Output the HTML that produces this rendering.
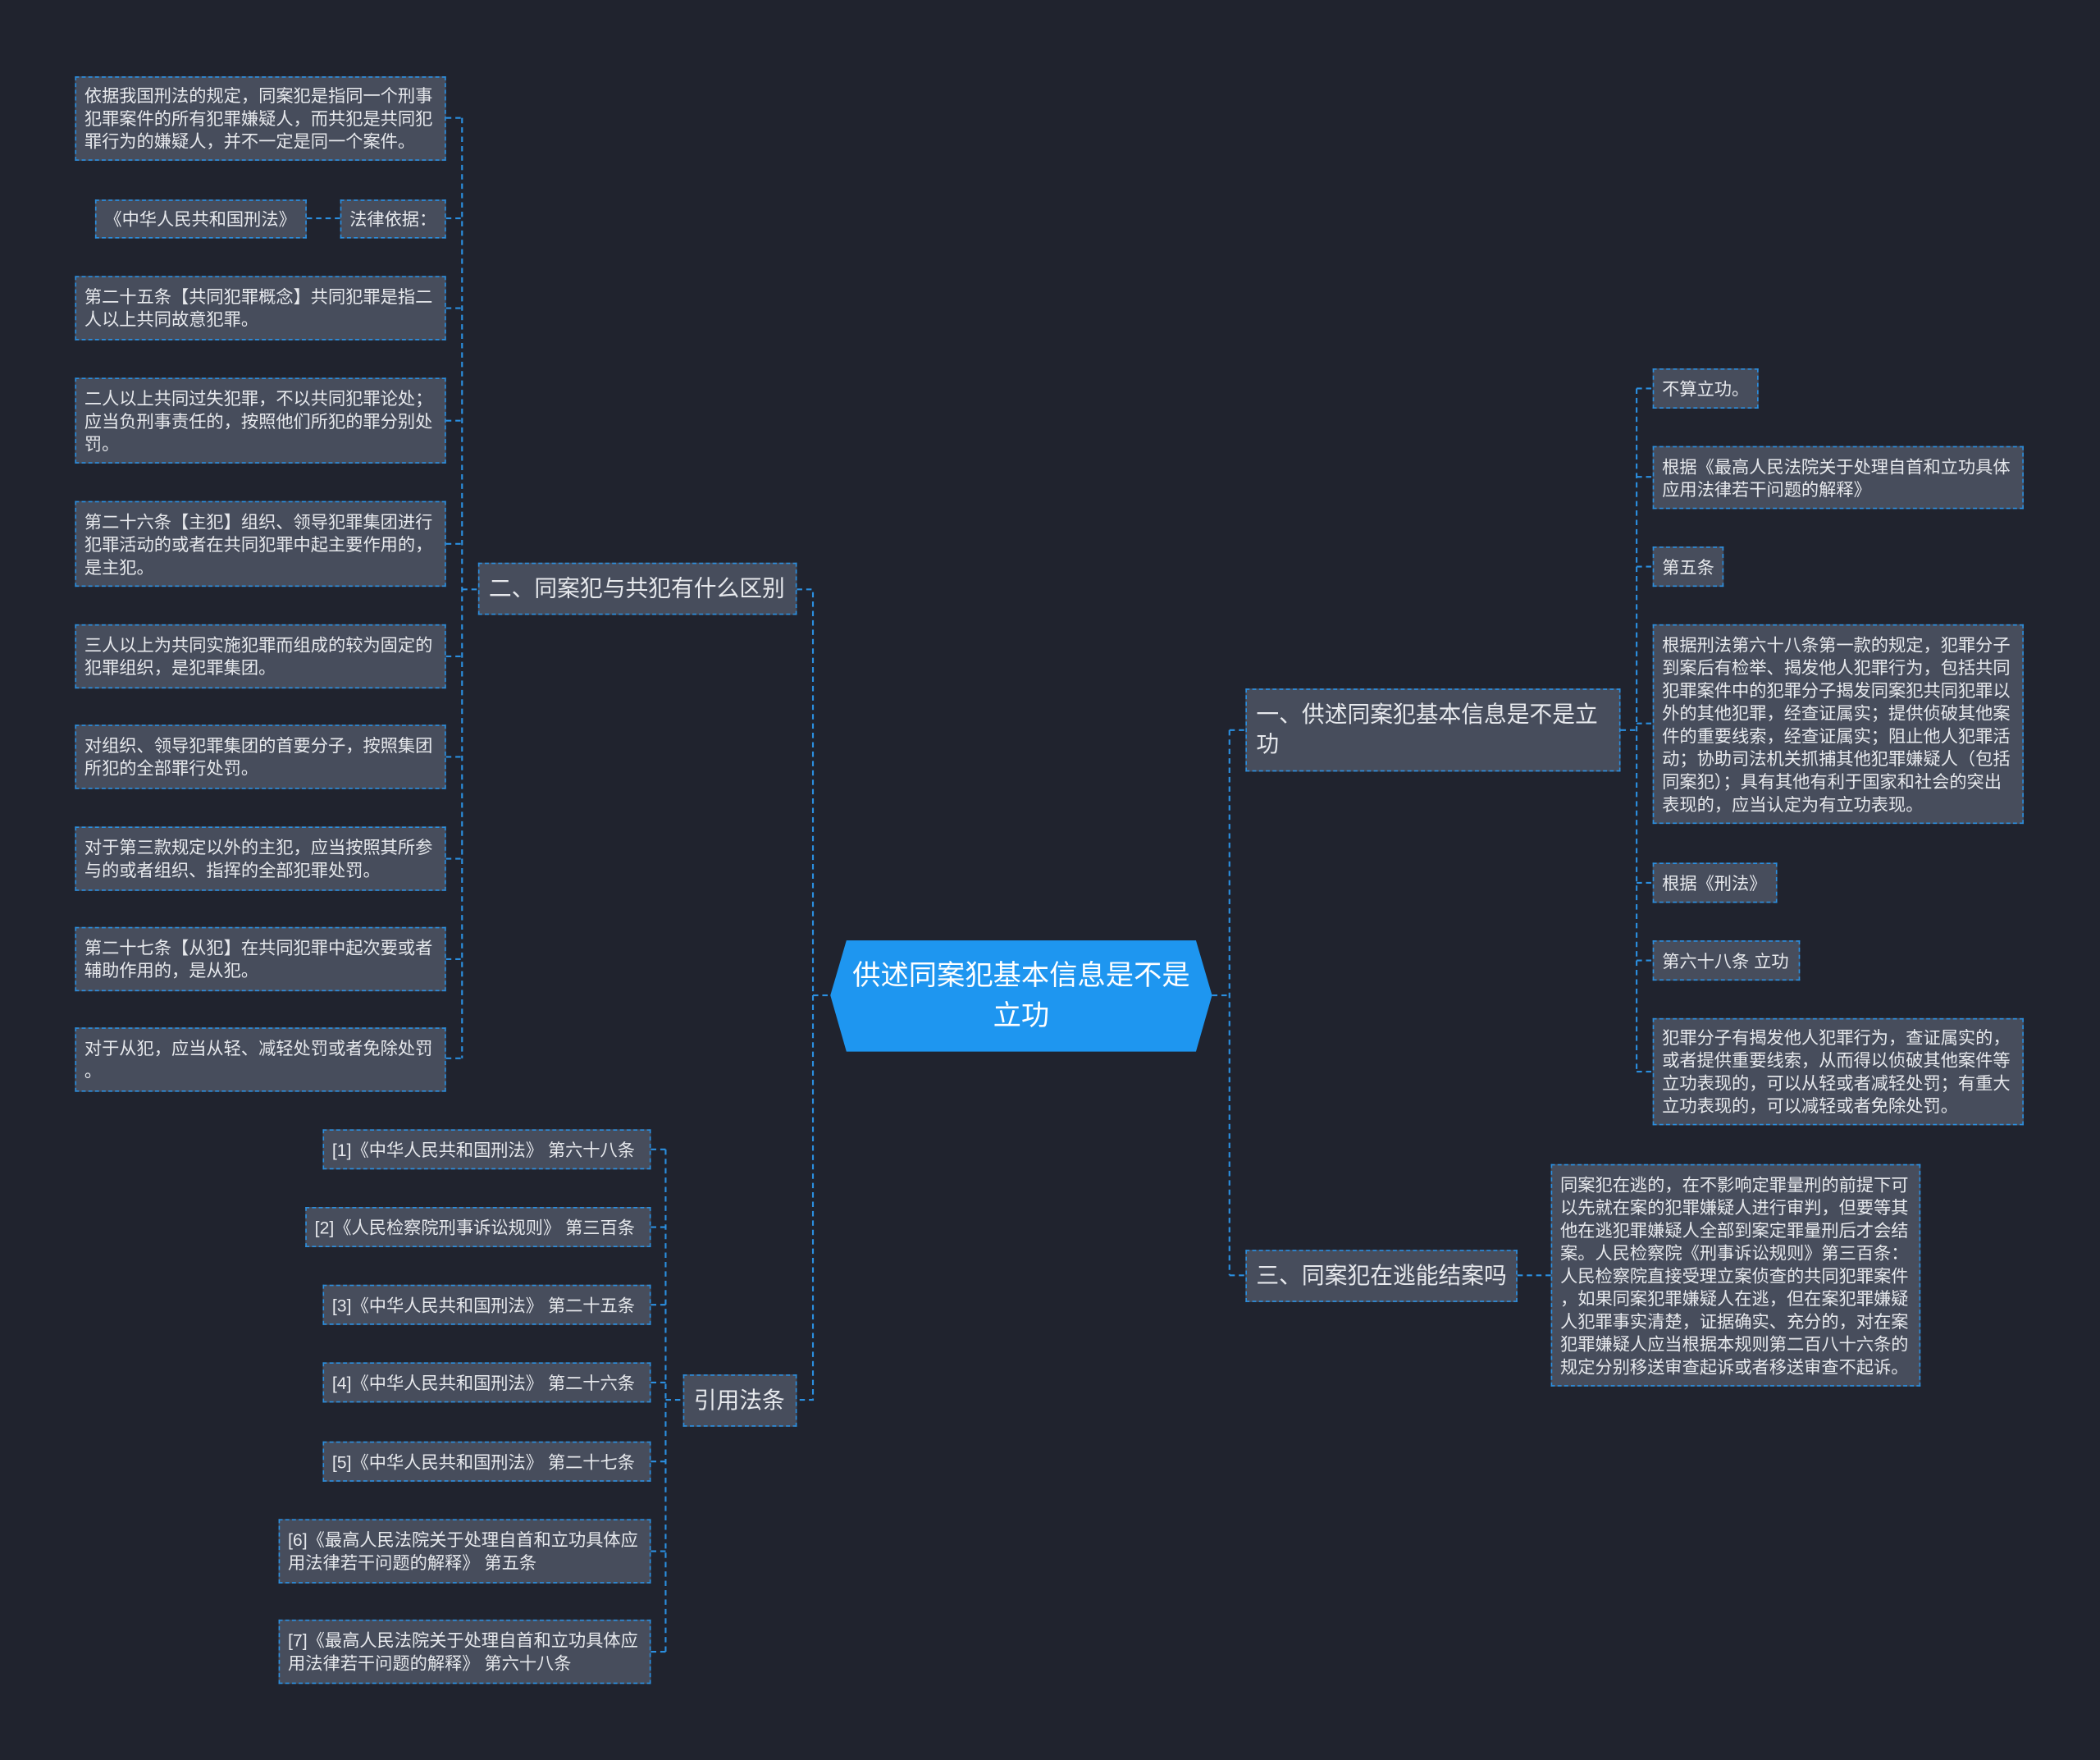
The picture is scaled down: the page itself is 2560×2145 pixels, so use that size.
<!DOCTYPE html>
<html><head><meta charset="utf-8"><style>
html,body{margin:0;padding:0;background:#20232e;}
body{width:2560px;height:2145px;overflow:hidden;}
#w{position:absolute;left:0;top:0;width:1568px;height:1314px;transform:scale(1.63265);transform-origin:0 0;font-family:"Liberation Sans","Noto Sans CJK SC",sans-serif;}
.n{position:absolute;box-sizing:border-box;background:#474d5c;border:1px dashed #2b8fe0;color:#e6e8ec;font-size:13px;line-height:17px;padding:5px 6px;display:flex;align-items:center;line-break:anywhere;}
.b{font-size:17px;line-height:22px;padding:6px 7px;}
.nw{white-space:nowrap;}
svg{position:absolute;left:0;top:0;}
</style></head><body><div id="w">
<svg width="1568" height="1314"><g stroke="#2b8fe0" stroke-width="1.3" stroke-dasharray="4,3" fill="none">
<path d="M345 88V790M333 88H345M333 163H345M229 163H254M333 230H345M333 314H345M333 406H345M333 490H345M333 565H345M333 641H345M333 716H345M333 790H345M345 440H357"/>
<path d="M595 440H607V1045H595M607 743H620"/>
<path d="M497 858V1233M486 858H497M486 916H497M486 974H497M486 1032H497M486 1091H497M486 1158H497M486 1233H497M497 1045H510"/>
<path d="M905 743H918M918 545V952M918 545H930M918 952H930"/>
<path d="M1222 290V800M1210 545H1222M1222 290H1234M1222 356H1234M1222 423H1234M1222 540H1234M1222 659H1234M1222 717H1234M1222 800H1234"/>
<path d="M1133 952H1158"/>
</g>
<polygon points="632,702 893,702 905,743 893,785 632,785 620,743" fill="#1e96f0"/>
</svg>
<div style="position:absolute;left:630px;top:702px;width:265px;height:83px;display:flex;align-items:center;justify-content:center;text-align:center;color:#fff;font-size:21px;line-height:30px;">供述同案犯基本信息是不是立功</div>

<div class="n" style="left:56px;top:57px;width:277px;height:63px">依据我国刑法的规定，同案犯是指同一个刑事犯罪案件的所有犯罪嫌疑人，而共犯是共同犯罪行为的嫌疑人，并不一定是同一个案件。</div>
<div class="n nw" style="left:71px;top:149px;width:158px;height:29px">《中华人民共和国刑法》</div>
<div class="n nw" style="left:254px;top:149px;width:79px;height:29px">法律依据：</div>
<div class="n" style="left:56px;top:206px;width:277px;height:48px">第二十五条【共同犯罪概念】共同犯罪是指二人以上共同故意犯罪。</div>
<div class="n" style="left:56px;top:282px;width:277px;height:64px">二人以上共同过失犯罪，不以共同犯罪论处；应当负刑事责任的，按照他们所犯的罪分别处罚。</div>
<div class="n" style="left:56px;top:374px;width:277px;height:64px">第二十六条【主犯】组织、领导犯罪集团进行犯罪活动的或者在共同犯罪中起主要作用的，是主犯。</div>
<div class="n" style="left:56px;top:466px;width:277px;height:48px">三人以上为共同实施犯罪而组成的较为固定的犯罪组织，是犯罪集团。</div>
<div class="n" style="left:56px;top:541px;width:277px;height:48px">对组织、领导犯罪集团的首要分子，按照集团所犯的全部罪行处罚。</div>
<div class="n" style="left:56px;top:617px;width:277px;height:48px">对于第三款规定以外的主犯，应当按照其所参与的或者组织、指挥的全部犯罪处罚。</div>
<div class="n" style="left:56px;top:692px;width:277px;height:48px">第二十七条【从犯】在共同犯罪中起次要或者辅助作用的，是从犯。</div>
<div class="n" style="left:56px;top:767px;width:277px;height:48px">对于从犯，应当从轻、减轻处罚或者免除处罚。</div>
<div class="n b nw" style="left:357px;top:420px;width:238px;height:39px">二、同案犯与共犯有什么区别</div>

<div class="n nw" style="left:241px;top:843px;width:245px;height:30px">[1]《中华人民共和国刑法》 第六十八条</div>
<div class="n nw" style="left:228px;top:901px;width:258px;height:30px">[2]《人民检察院刑事诉讼规则》 第三百条</div>
<div class="n nw" style="left:241px;top:959px;width:245px;height:30px">[3]《中华人民共和国刑法》 第二十五条</div>
<div class="n nw" style="left:241px;top:1017px;width:245px;height:30px">[4]《中华人民共和国刑法》 第二十六条</div>
<div class="n nw" style="left:241px;top:1076px;width:245px;height:30px">[5]《中华人民共和国刑法》 第二十七条</div>
<div class="n" style="left:208px;top:1134px;width:278px;height:48px">[6]《最高人民法院关于处理自首和立功具体应用法律若干问题的解释》 第五条</div>
<div class="n" style="left:208px;top:1209px;width:278px;height:48px">[7]《最高人民法院关于处理自首和立功具体应用法律若干问题的解释》 第六十八条</div>
<div class="n b nw" style="left:510px;top:1026px;width:85px;height:39px">引用法条</div>

<div class="n b" style="left:930px;top:514px;width:280px;height:62px;padding-right:14px">一、供述同案犯基本信息是不是立功</div>
<div class="n nw" style="left:1234px;top:275px;width:79px;height:30px">不算立功。</div>
<div class="n" style="left:1234px;top:333px;width:277px;height:47px">根据《最高人民法院关于处理自首和立功具体应用法律若干问题的解释》</div>
<div class="n nw" style="left:1234px;top:408px;width:53px;height:30px">第五条</div>
<div class="n" style="left:1234px;top:466px;width:277px;height:149px">根据刑法第六十八条第一款的规定，犯罪分子到案后有检举、揭发他人犯罪行为，包括共同犯罪案件中的犯罪分子揭发同案犯共同犯罪以外的其他犯罪，经查证属实；提供侦破其他案件的重要线索，经查证属实；阻止他人犯罪活动；协助司法机关抓捕其他犯罪嫌疑人（包括同案犯）；具有其他有利于国家和社会的突出表现的，应当认定为有立功表现。</div>
<div class="n nw" style="left:1234px;top:644px;width:93px;height:30px">根据《刑法》</div>
<div class="n nw" style="left:1234px;top:702px;width:110px;height:30px">第六十八条 立功</div>
<div class="n" style="left:1234px;top:760px;width:277px;height:80px">犯罪分子有揭发他人犯罪行为，查证属实的，或者提供重要线索，从而得以侦破其他案件等立功表现的，可以从轻或者减轻处罚；有重大立功表现的，可以减轻或者免除处罚。</div>
<div class="n b nw" style="left:930px;top:933px;width:203px;height:39px">三、同案犯在逃能结案吗</div>
<div class="n" style="left:1158px;top:869px;width:276px;height:166px;">同案犯在逃的，在不影响定罪量刑的前提下可以先就在案的犯罪嫌疑人进行审判，但要等其他在逃犯罪嫌疑人全部到案定罪量刑后才会结案。人民检察院《刑事诉讼规则》第三百条：人民检察院直接受理立案侦查的共同犯罪案件，如果同案犯罪嫌疑人在逃，但在案犯罪嫌疑人犯罪事实清楚，证据确实、充分的，对在案犯罪嫌疑人应当根据本规则第二百八十六条的规定分别移送审查起诉或者移送审查不起诉。</div>
</div></body></html>
